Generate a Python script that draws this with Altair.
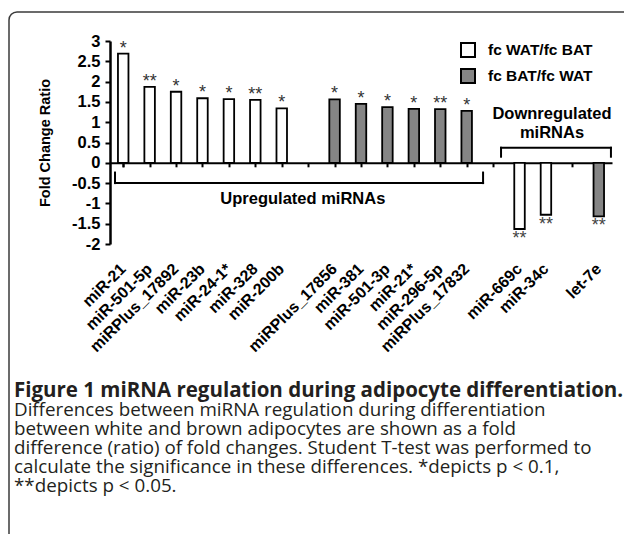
import altair as alt
import pandas as pd
import math

# ---- data ----
categories = ["miR-21", "miR-501-5p", "miRPlus_17892", "miR-23b", "miR-24-1*", "miR-328", "miR-200b",
              "miRPlus_17856", "miR-381", "miR-501-3p", "miR-21*", "miR-296-5p", "miRPlus_17832",
              "miR-669c", "miR-34c", "let-7e"]
values = [2.69, 1.87, 1.75, 1.59, 1.57, 1.55, 1.34,
          1.56, 1.45, 1.37, 1.33, 1.32, 1.28,
          -1.63, -1.28, -1.32]
series = (["fc WAT/fc BAT"] * 7 + ["fc BAT/fc WAT"] * 6 +
          ["fc WAT/fc BAT"] * 2 + ["fc BAT/fc WAT"])
stars = ["*", "**", "*", "*", "*", "**", "*",
         "*", "*", "*", "*", "**", "*",
         "**", "**", "**"]
# x slots, with the empty slots between groups
x_domain = (categories[:7] + [" "] + categories[7:13] + ["  "] +
            categories[13:15] + ["   "] + categories[15:])
series_names = ["fc WAT/fc BAT", "fc BAT/fc WAT"]
series_colors = ["white", "#858585"]

# brackets (x in slot units, y in fold change units)
br_x = [0.19, 0.19, 14.12, 14.8, 14.8, 18.96]
br_x2 = [14.12, 0.19, 14.12, 18.96, 14.8, 18.96]
br_y = [-0.5, -0.5, -0.5, 0.37, 0.37, 0.37]
br_y2 = [-0.5, -0.24, -0.24, 0.37, 0.15, 0.15]
br_text = ["Upregulated miRNAs", "Downregulated", "miRNAs"]
br_text_x = [7.3, 16.73, 16.73]
br_text_y = [-0.9, 1.19, 0.74]

caption_title = "Figure 1 miRNA regulation during adipocyte differentiation."
caption_lines = [
    "Differences between miRNA regulation during differentiation",
    "between white and brown adipocytes are shown as a fold",
    "difference (ratio) of fold changes. Student T-test was performed to",
    "calculate the significance in these differences. *depicts p < 0.1,",
    "**depicts p < 0.05.",
]

df = pd.DataFrame({"cat": categories, "value": values, "series": series, "star": stars})
df_br = pd.DataFrame({"x": br_x, "x2": br_x2, "value": br_y, "value2": br_y2})
df_bt = pd.DataFrame({"x": br_text_x, "value": br_text_y, "label": br_text})

W, H = 502, 203
FONT = "Liberation Sans"

yscale = alt.Scale(domain=[-2, 3], nice=False, zero=False)
yaxis = alt.Axis(values=[-2, -1.5, -1, -0.5, 0, 0.5, 1, 1.5, 2, 2.5, 3],
                 labelExpr="'' + datum.value", grid=False,
                 title="Fold Change Ratio", titleFont=FONT, titleFontSize=14.5,
                 titleFontWeight="bold", titleColor="black", titlePadding=19,
                 labelFont=FONT, labelFontSize=16.5, labelFontWeight="bold",
                 labelColor="black", labelPadding=5,
                 domainColor="black", domainWidth=2.5,
                 tickColor="black", tickWidth=2, tickSize=5)

xband = alt.Scale(domain=x_domain, paddingInner=0, paddingOuter=0)

label_axis = alt.Axis(title=None, domain=False, ticks=False, labelAngle=-45,
                      labelAlign="right", labelBaseline="middle", labelPadding=22,
                      labelFont=FONT, labelFontSize=16, labelFontWeight="bold",
                      labelColor="black", orient="bottom")
tick_axis = alt.Axis(title=None, labels=False, orient="bottom", offset=-2 * H / 5,
                     bandPosition=1, tickExtra=True, domainColor="black",
                     domainWidth=2, tickColor="black", tickWidth=2, tickSize=4)

bars = alt.Chart(df).mark_bar(width=10.5, stroke="black", strokeWidth=1.8).encode(
    x=alt.X("cat:N", scale=xband, sort=x_domain, axis=label_axis),
    y=alt.Y("value:Q", scale=yscale, axis=yaxis),
    color=alt.Color("series:N",
                    scale=alt.Scale(domain=series_names, range=series_colors),
                    legend=alt.Legend(orient="none", legendX=350, legendY=1, title=None,
                                      symbolType="square", symbolSize=196,
                                      symbolStrokeColor="black", symbolStrokeWidth=2,
                                      labelFont=FONT, labelFontSize=15.5,
                                      labelFontWeight="bold", labelColor="black",
                                      labelOffset=12, rowPadding=4, padding=0)),
)

star_pos = alt.Chart(df).transform_filter("datum.value >= 0").mark_text(
    font=FONT, fontSize=18, color="#333", baseline="bottom", dy=4
).encode(
    x=alt.X("cat:N", scale=xband, sort=x_domain, axis=tick_axis),
    y=alt.Y("value:Q", scale=yscale, axis=yaxis),
    text="star:N",
)
star_neg = alt.Chart(df).transform_filter("datum.value < 0").mark_text(
    font=FONT, fontSize=18, color="#444", baseline="top", dy=1
).encode(
    x=alt.X("cat:N", scale=xband, sort=x_domain, axis=None),
    y=alt.Y("value:Q", scale=yscale, axis=yaxis),
    text="star:N",
)

xq = alt.Scale(domain=[0, 19], nice=False, zero=False)
brackets = alt.Chart(df_br).mark_rule(color="black", strokeWidth=2, strokeCap="square").encode(
    x=alt.X("x:Q", scale=xq, axis=None),
    x2="x2:Q",
    y=alt.Y("value:Q", scale=yscale, axis=yaxis),
    y2="value2:Q",
)
br_labels = alt.Chart(df_bt).mark_text(
    font=FONT, fontSize=16.5, fontWeight="bold", color="black", baseline="middle"
).encode(
    x=alt.X("x:Q", scale=xq, axis=None),
    y=alt.Y("value:Q", scale=yscale, axis=yaxis),
    text="label:N",
)

# figure frame: left and top edges with a rounded corner (decoration, pixels)
FR = "#3a3a3a"
frame_left = alt.Chart(alt.Data(values=[{}])).mark_rule(color=FR, strokeWidth=1.5).encode(
    x=alt.value(-101), y=alt.value(-21), y2=alt.value(493)
)
frame_top = alt.Chart(alt.Data(values=[{}])).mark_rule(color=FR, strokeWidth=1.5).encode(
    x=alt.value(-93), x2=alt.value(514), y=alt.value(-29)
)
frame_corner = alt.Chart(alt.Data(values=[{}])).mark_arc(
    filled=False, stroke=FR, strokeWidth=1.5, radius=8, radius2=8,
    theta=1.5 * math.pi, theta2=2 * math.pi
).encode(x=alt.value(-93), y=alt.value(-21))

chart = alt.layer(frame_left, frame_top, frame_corner, bars, star_pos, star_neg,
                  brackets, br_labels).resolve_scale(
    x="independent"
).resolve_axis(x="independent").properties(
    width=W, height=H,
    padding={"left": 110, "top": 41, "right": 13, "bottom": 290},
    autosize=alt.AutoSizeParams(type="none"),
    title=alt.Title(caption_title, subtitle=caption_lines, orient="bottom",
                    anchor="start", frame="group", dx=-96, offset=-154,
                    font="Open Sans", fontSize=20.5, fontWeight="bold", color="#231f20",
                    subtitleFont="Open Sans", subtitleFontSize=18.8, subtitleColor="#231f20",
                    subtitleLineHeight=19, subtitlePadding=0),
).configure_view(strokeWidth=0)

chart.save("out.html", embed_options={"renderer": "svg", "actions": False})
